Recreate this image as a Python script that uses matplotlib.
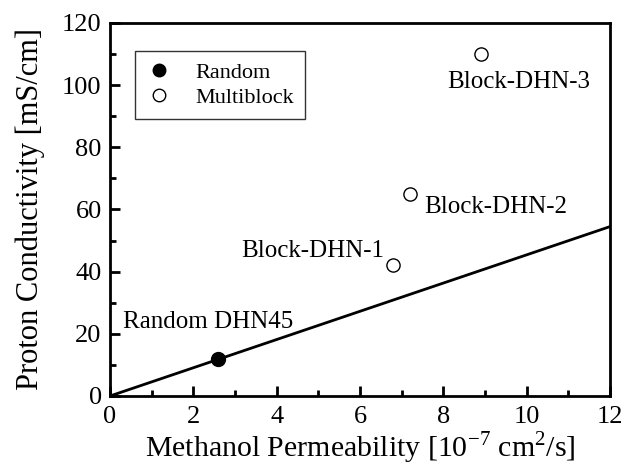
import matplotlib
matplotlib.use("Agg")
import matplotlib.pyplot as plt
from matplotlib.ticker import MultipleLocator

plt.rcParams['font.family'] = ['Liberation Serif', 'DejaVu Serif']
plt.rcParams['mathtext.fontset'] = 'custom'
plt.rcParams['mathtext.rm'] = 'Liberation Serif'

# data
random_x = [2.6]
random_y = [12]
block_x = [6.8, 7.2, 8.9]
block_y = [42, 65, 110]
block_names = ["Block-DHN-1", "Block-DHN-2", "Block-DHN-3"]
fit_x = [0, 12]
fit_y = [0, 54.5]

fig = plt.figure(figsize=(6.24, 4.68), dpi=100)
ax = fig.add_axes([110/624, 1 - 396/468, 500/624, 373/468])

ax.plot(fit_x, fit_y, color='black', lw=2)
ax.plot(random_x, random_y, 'o', color='black', ms=10, label='Random')
ax.plot(block_x, block_y, 'o', mfc='white', mec='black', mew=1, ms=9.5,
        label='Multiblock', linestyle='none')

# labels next to the points
ax.text(0.3, 22, "Random DHN45", fontsize=18)
ax.text(3.15, 44.7, block_names[0], fontsize=18)
ax.text(7.54, 58.9, block_names[1], fontsize=18)
ax.text(8.09, 99.1, block_names[2], fontsize=18)

ax.set_xlim(0, 12)
ax.set_ylim(0, 120)
ax.xaxis.set_major_locator(MultipleLocator(2))
ax.xaxis.set_minor_locator(MultipleLocator(1))
ax.yaxis.set_major_locator(MultipleLocator(20))
ax.yaxis.set_minor_locator(MultipleLocator(10))
ax.tick_params(which='both', direction='in', width=2, labelsize=19)
ax.tick_params(axis='x', pad=7)
ax.tick_params(axis='y', pad=6)
ax.tick_params(which='major', length=7)
ax.tick_params(which='minor', length=4)
for s in ax.spines.values():
    s.set_linewidth(2)

ax.set_xlabel(r"Methanol Permeability [10$^{\mathregular{-7}}$ cm$^{\mathregular{2}}$/s]", fontsize=21.5, labelpad=1)
ax.set_ylabel("Proton Conductivity [mS/cm]", fontsize=22, labelpad=12)

leg = ax.legend(loc='upper left', bbox_to_anchor=(0.05, 0.925), fontsize=16,
                frameon=True, fancybox=False, edgecolor='black', borderpad=0.5,
                handlelength=1.2, handletextpad=1.0, labelspacing=0.2, numpoints=1,
                borderaxespad=0)
leg.get_frame().set_linewidth(1)
for h in leg.legend_handles:
    h.set_markersize(9)

fig.savefig("out.png", dpi=100)
